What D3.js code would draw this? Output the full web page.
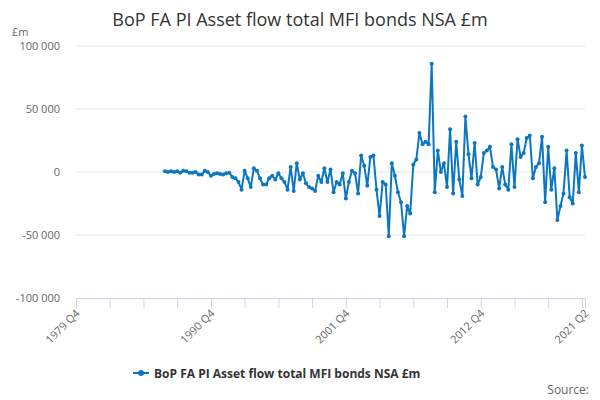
<!DOCTYPE html>
<html>
<head>
<meta charset="utf-8">
<script src="https://cdn.jsdelivr.net/npm/d3@7"></script>
<style>
  body { margin: 0; background: #fff; font-family: "Open Sans", "DejaVu Sans", sans-serif; }
</style>
</head>
<body>
<svg id="chart" width="600" height="400"></svg>
<script>
// values in £m thousands, quarterly, ending 2021 Q2
const values = [
  0.5, 0, 0.5, 0, 0.5, -0.5, 1, 0.5, -0.5, -0.5, 0, -2, -2, 1, 0, -3, -1.5, -1, -1.5, -2, -1,
  -0.5, -4, -5, -8, -14, 1, -5, -12, 3, 1, -5, -10, -10, -5, -3, -6, -1, -5, -8, -14, 4, -15, 7,
  -6, -1, -9, -12, -13, -15, -3, -8, 3, -8, 2, -16, -8, -10, -1,
  -21, -8, 1, -1, -17, 13, 5, -11, 12, 13, -14, -35, -8, -10, -51, 7, -3, -16, -24, -51, -27,
  -33, 6, 10, 31, 22, 24, 22, 86, -16, 17, 0, 7, -12, 34, -17, 24, -6, -19, 44, 14, -5, 23,
  -10, -4, 15, 17, 20, 4, 2, -13, 4, -10, -14, 22, -12, 26, 12, 15, 27, 29, -5, 4, 7, 28, -24,
  20, -14, 3, -38, -27, -17, 17, -20, -25, 15, -16, 21, -4
].map(v => v * 1000);
const firstQuarter = 1979 * 4 + 3; // 1979 Q4 as quarter count
const lastQuarter = 2021 * 4 + 1;  // 2021 Q2
const tickLabels = ["1979 Q4", "1990 Q4", "2001 Q4", "2012 Q4", "2021 Q2"];
const yTicks = [-100000, -50000, 0, 50000, 100000];
const seriesName = "BoP FA PI Asset flow total MFI bonds NSA £m";

const data = values.map((v, i) => ({ q: lastQuarter - (values.length - 1 - i), v }));

const svg = d3.select("#chart");
const mLeft = 76, mRight = 585, mTop = 46, mBottom = 298;
const color = "#0b77c1";

const x = d3.scaleLinear().domain([firstQuarter, lastQuarter]).range([mLeft, mRight]);
const y = d3.scaleLinear().domain([-100000, 100000]).range([mBottom, mTop]);
const fmt = d => d3.format(",")(d).replace(/,/g, " ").replace("−", "-");

svg.append("text").attr("x", 300).attr("y", 26).attr("text-anchor", "middle")
  .attr("font-size", 18).attr("fill", "#333").text(seriesName);

svg.append("text").attr("x", 12).attr("y", 36).attr("font-size", 11).attr("fill", "#666").text("£m");

// grid
svg.append("g").selectAll("line").data(yTicks.filter(d => d !== -100000)).join("line")
  .attr("x1", mLeft).attr("x2", mRight).attr("y1", d => y(d)).attr("y2", d => y(d))
  .attr("stroke", "#e6e6e6");

svg.append("g").selectAll("text").data(yTicks).join("text")
  .attr("x", 60).attr("y", d => y(d) + 4).attr("text-anchor", "end")
  .attr("font-size", 11).attr("fill", "#666").text(fmt);

// x axis: tick every 11 quarters plus the last one
const ticks = d3.range(firstQuarter, lastQuarter, 11).concat([lastQuarter]);
const labelled = new Map([[firstQuarter, tickLabels[0]], [firstQuarter + 44, tickLabels[1]],
  [firstQuarter + 88, tickLabels[2]], [firstQuarter + 132, tickLabels[3]], [lastQuarter, tickLabels[4]]]);
const xAxis = d3.axisBottom(x).tickValues(ticks).tickSize(10)
  .tickFormat(d => labelled.get(d) || "");
const gx = svg.append("g").attr("transform", `translate(0,${mBottom})`).call(xAxis);
gx.select(".domain").attr("stroke", "#ccd6eb");
gx.selectAll(".tick line").attr("stroke", "#ccd6eb");
gx.selectAll(".tick text").attr("fill", "#666").attr("font-size", 11)
  .attr("font-family", "Open Sans, sans-serif")
  .attr("text-anchor", "end").attr("dy", 0).attr("y", 0)
  .attr("transform", "translate(4,16) rotate(-45)");

// series
const line = d3.line().x(d => x(d.q)).y(d => y(d.v));
svg.append("path").datum(data).attr("d", line).attr("fill", "none")
  .attr("stroke", color).attr("stroke-width", 2).attr("stroke-linejoin", "round");
svg.append("g").selectAll("circle").data(data).join("circle")
  .attr("cx", d => x(d.q)).attr("cy", d => y(d.v)).attr("r", 2).attr("fill", color);

// legend
const lg = svg.append("g").attr("transform", "translate(133,373)");
lg.append("line").attr("x1", 0).attr("x2", 16).attr("stroke", color).attr("stroke-width", 2);
lg.append("circle").attr("cx", 8).attr("r", 3).attr("fill", color);
lg.append("text").attr("x", 21).attr("y", 4.5).attr("font-size", 12).attr("font-weight", "bold")
  .attr("fill", "#333").text(seriesName);

svg.append("text").attr("x", 589).attr("y", 394).attr("text-anchor", "end")
  .attr("font-size", 12).attr("fill", "#666").text("Source:");
</script>
</body>
</html>
